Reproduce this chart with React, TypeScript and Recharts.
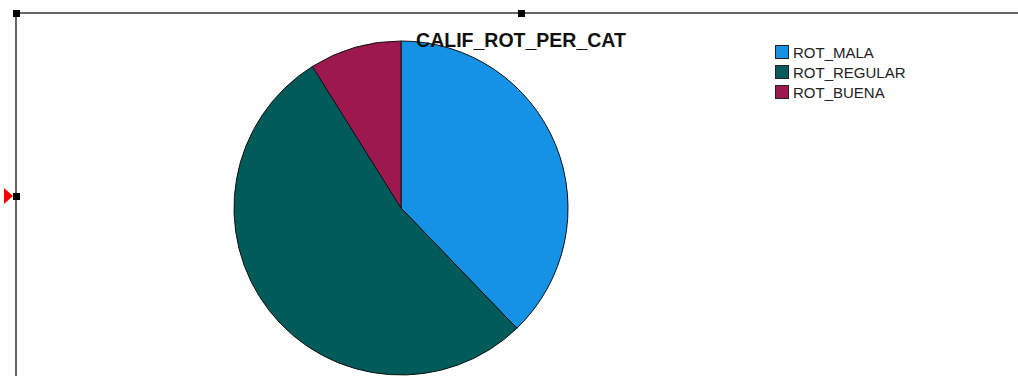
import React from "react"
import { PieChart, Pie, Cell, Legend } from "recharts"

const categories = ["ROT_MALA", "ROT_REGULAR", "ROT_BUENA"]
const values = [37.8, 53.3, 8.9]
const colors = ["#1591e6", "#005b5a", "#9c184f"]

const title = "CALIF_ROT_PER_CAT"

const data = categories.map((name, i) => ({ name, value: values[i] }))

function LegendBox() {
  return (
    <div style={{ fontFamily: "Liberation Sans, Arial, sans-serif", fontSize: 15, color: "#222" }}>
      {categories.map((name, i) => (
        <div key={name} style={{ display: "flex", alignItems: "center", height: 20 }}>
          <span
            style={{
              width: 14,
              height: 14,
              background: colors[i],
              border: "1px solid #222",
              boxSizing: "border-box",
              marginRight: 4,
            }}
          />
          <span>{name}</span>
        </div>
      ))}
    </div>
  )
}

export default function App() {
  const W = 1018
  const H = 376
  return (
    <div style={{ position: "absolute", left: 0, top: 0, width: W, height: H, background: "#fff" }}>
      <PieChart width={W} height={H} margin={{ top: 0, right: 0, bottom: 0, left: 0 }}>
        <Pie
          data={data}
          dataKey="value"
          nameKey="name"
          cx={401}
          cy={208}
          outerRadius={167}
          startAngle={90}
          endAngle={-270}
          stroke="#111"
          strokeWidth={1}
          isAnimationActive={false}
        >
          {data.map((d, i) => (
            <Cell key={d.name} fill={colors[i]} />
          ))}
        </Pie>
        <Legend
          content={<LegendBox />}
          wrapperStyle={{ position: "absolute", left: 775, top: 42, width: 170 }}
        />
      </PieChart>
      {/* frame, handles and title on top */}
      <svg width={W} height={H} style={{ position: "absolute", left: 0, top: 0, pointerEvents: "none" }}>
        <line x1={16} y1={13} x2={W} y2={13} stroke="#333" strokeWidth={1.5} />
        <line x1={16} y1={13} x2={16} y2={H} stroke="#333" strokeWidth={1.5} />
        <rect x={13} y={10} width={7} height={7} fill="#000" />
        <rect x={518} y={10} width={7} height={7} fill="#000" />
        <rect x={13} y={193} width={7} height={7} fill="#000" />
        <polygon points="4,188 13,196 4,204" fill="#f00" />
        <text
          x={521}
          y={47}
          textAnchor="middle"
          fontFamily="Liberation Sans, Arial, sans-serif"
          fontWeight="bold"
          fontSize={19.5}
          fill="#111"
        >
          {title}
        </text>
      </svg>
    </div>
  )
}
